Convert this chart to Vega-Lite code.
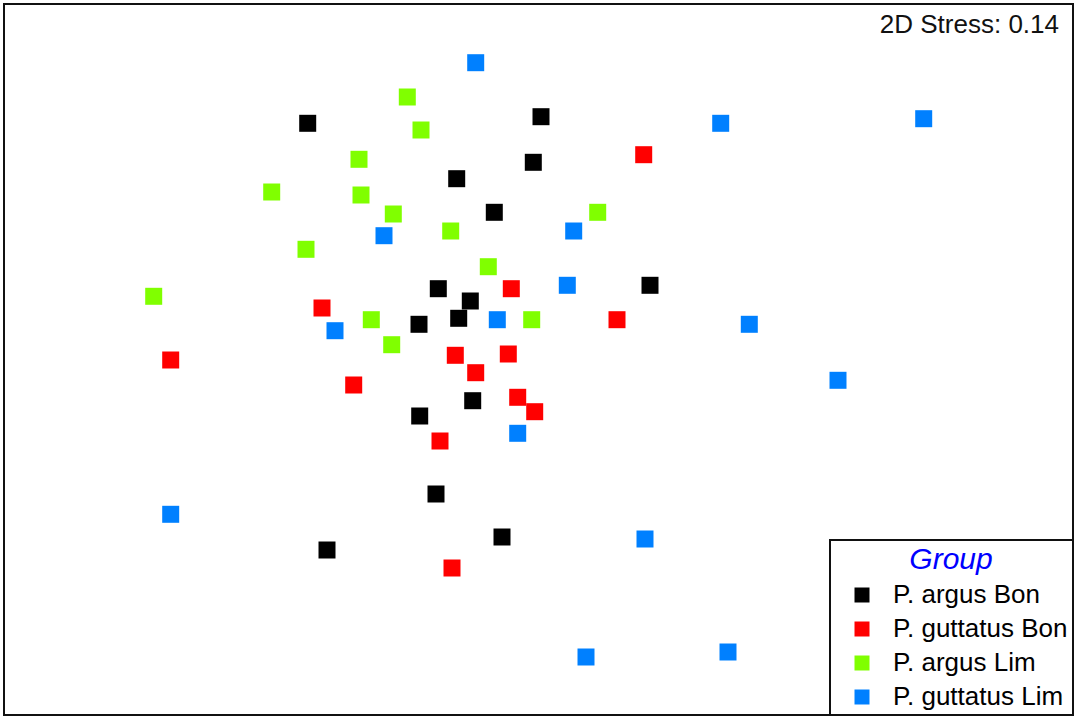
{
  "$schema": "https://vega.github.io/schema/vega-lite/v6.json",
  "width": 1069,
  "height": 711,
  "autosize": {"type": "none"},
  "padding": {"left": 4, "top": 4, "right": 5, "bottom": 7},
  "background": "white",
  "config": {
    "view": {"stroke": "#111", "strokeWidth": 2},
    "font": "Liberation Sans"
  },
  "datasets": {
    "pts": [
      {"MDS1": 307.7, "MDS2": 123.3, "Group": "P. argus Bon"},
      {"MDS1": 541, "MDS2": 116.7, "Group": "P. argus Bon"},
      {"MDS1": 533.3, "MDS2": 162.3, "Group": "P. argus Bon"},
      {"MDS1": 456.7, "MDS2": 178.7, "Group": "P. argus Bon"},
      {"MDS1": 494.3, "MDS2": 212.3, "Group": "P. argus Bon"},
      {"MDS1": 438.3, "MDS2": 288.7, "Group": "P. argus Bon"},
      {"MDS1": 470.3, "MDS2": 301, "Group": "P. argus Bon"},
      {"MDS1": 458.7, "MDS2": 318.3, "Group": "P. argus Bon"},
      {"MDS1": 419, "MDS2": 324.3, "Group": "P. argus Bon"},
      {"MDS1": 650, "MDS2": 285.3, "Group": "P. argus Bon"},
      {"MDS1": 472.7, "MDS2": 400.7, "Group": "P. argus Bon"},
      {"MDS1": 419.7, "MDS2": 416, "Group": "P. argus Bon"},
      {"MDS1": 436, "MDS2": 494, "Group": "P. argus Bon"},
      {"MDS1": 502, "MDS2": 537, "Group": "P. argus Bon"},
      {"MDS1": 327, "MDS2": 550, "Group": "P. argus Bon"},
      {"MDS1": 643.7, "MDS2": 154.7, "Group": "P. guttatus Bon"},
      {"MDS1": 322, "MDS2": 308, "Group": "P. guttatus Bon"},
      {"MDS1": 511.3, "MDS2": 288.7, "Group": "P. guttatus Bon"},
      {"MDS1": 617, "MDS2": 319.7, "Group": "P. guttatus Bon"},
      {"MDS1": 170.7, "MDS2": 360, "Group": "P. guttatus Bon"},
      {"MDS1": 455.3, "MDS2": 355.3, "Group": "P. guttatus Bon"},
      {"MDS1": 508.3, "MDS2": 354, "Group": "P. guttatus Bon"},
      {"MDS1": 475.7, "MDS2": 372.7, "Group": "P. guttatus Bon"},
      {"MDS1": 353.7, "MDS2": 385, "Group": "P. guttatus Bon"},
      {"MDS1": 517.7, "MDS2": 397.3, "Group": "P. guttatus Bon"},
      {"MDS1": 534.7, "MDS2": 411.7, "Group": "P. guttatus Bon"},
      {"MDS1": 440, "MDS2": 441, "Group": "P. guttatus Bon"},
      {"MDS1": 452, "MDS2": 568, "Group": "P. guttatus Bon"},
      {"MDS1": 407.3, "MDS2": 97, "Group": "P. argus Lim"},
      {"MDS1": 421, "MDS2": 130, "Group": "P. argus Lim"},
      {"MDS1": 359, "MDS2": 159.3, "Group": "P. argus Lim"},
      {"MDS1": 271.7, "MDS2": 192, "Group": "P. argus Lim"},
      {"MDS1": 361, "MDS2": 195, "Group": "P. argus Lim"},
      {"MDS1": 393.3, "MDS2": 214, "Group": "P. argus Lim"},
      {"MDS1": 450.7, "MDS2": 231, "Group": "P. argus Lim"},
      {"MDS1": 306, "MDS2": 249.3, "Group": "P. argus Lim"},
      {"MDS1": 597.7, "MDS2": 212.3, "Group": "P. argus Lim"},
      {"MDS1": 488.3, "MDS2": 266.7, "Group": "P. argus Lim"},
      {"MDS1": 153.7, "MDS2": 296.3, "Group": "P. argus Lim"},
      {"MDS1": 371.3, "MDS2": 319.7, "Group": "P. argus Lim"},
      {"MDS1": 531.7, "MDS2": 319.7, "Group": "P. argus Lim"},
      {"MDS1": 391.7, "MDS2": 344.7, "Group": "P. argus Lim"},
      {"MDS1": 475.7, "MDS2": 62.7, "Group": "P. guttatus Lim"},
      {"MDS1": 720.7, "MDS2": 123.3, "Group": "P. guttatus Lim"},
      {"MDS1": 923.7, "MDS2": 118.7, "Group": "P. guttatus Lim"},
      {"MDS1": 384, "MDS2": 235.7, "Group": "P. guttatus Lim"},
      {"MDS1": 573.7, "MDS2": 231, "Group": "P. guttatus Lim"},
      {"MDS1": 567.3, "MDS2": 285.3, "Group": "P. guttatus Lim"},
      {"MDS1": 335, "MDS2": 330.7, "Group": "P. guttatus Lim"},
      {"MDS1": 497.3, "MDS2": 319.7, "Group": "P. guttatus Lim"},
      {"MDS1": 749.3, "MDS2": 324.3, "Group": "P. guttatus Lim"},
      {"MDS1": 838, "MDS2": 380.3, "Group": "P. guttatus Lim"},
      {"MDS1": 517.7, "MDS2": 433.3, "Group": "P. guttatus Lim"},
      {"MDS1": 170.7, "MDS2": 514.3, "Group": "P. guttatus Lim"},
      {"MDS1": 645, "MDS2": 539, "Group": "P. guttatus Lim"},
      {"MDS1": 586, "MDS2": 657, "Group": "P. guttatus Lim"},
      {"MDS1": 728, "MDS2": 652, "Group": "P. guttatus Lim"}
    ],
    "stress": [{"MDS1": 1059, "MDS2": 33, "label": "2D Stress: 0.14"}]
  },
  "layer": [
    {
      "data": {"name": "pts"},
      "mark": {"type": "square", "size": 289, "filled": true, "opacity": 1},
      "encoding": {
        "x": {"field": "MDS1", "type": "quantitative", "scale": {"domain": [4, 1073], "nice": false, "zero": false}, "axis": null},
        "y": {"field": "MDS2", "type": "quantitative", "scale": {"domain": [4, 715], "nice": false, "zero": false, "reverse": true}, "axis": null},
        "color": {
          "field": "Group",
          "type": "nominal",
          "scale": {
            "domain": ["P. argus Bon", "P. guttatus Bon", "P. argus Lim", "P. guttatus Lim"],
            "range": ["#000000", "#ff0000", "#80ff00", "#0080ff"]
          },
          "legend": {
            "orient": "bottom-right",
            "offset": 0,
            "title": "Group",
            "titleFontSize": 30,
            "titleFontStyle": "italic",
            "titleFontWeight": "normal",
            "titleColor": "#0000ff",
            "titleAlign": "center",
            "titleAnchor": "middle",
            "titlePadding": 7,
            "labelFontSize": 26,
            "labelColor": "#000",
            "labelOffset": 18,
            "labelLimit": 400,
            "symbolType": "square",
            "symbolSize": 225,
            "symbolOffset": 14,
            "symbolStrokeWidth": 0,
            "symbolOpacity": 1,
            "rowPadding": 8,
            "padding": 5,
            "strokeColor": "#111",
            "fillColor": "white",
            "encode": {"legend": {"update": {"strokeWidth": {"value": 2}}}}
          }
        }
      }
    },
    {
      "data": {"name": "stress"},
      "mark": {"type": "text", "align": "right", "baseline": "alphabetic", "fontSize": 26, "color": "#111"},
      "encoding": {
        "x": {"field": "MDS1", "type": "quantitative"},
        "y": {"field": "MDS2", "type": "quantitative"},
        "text": {"field": "label"}
      }
    }
  ]
}
